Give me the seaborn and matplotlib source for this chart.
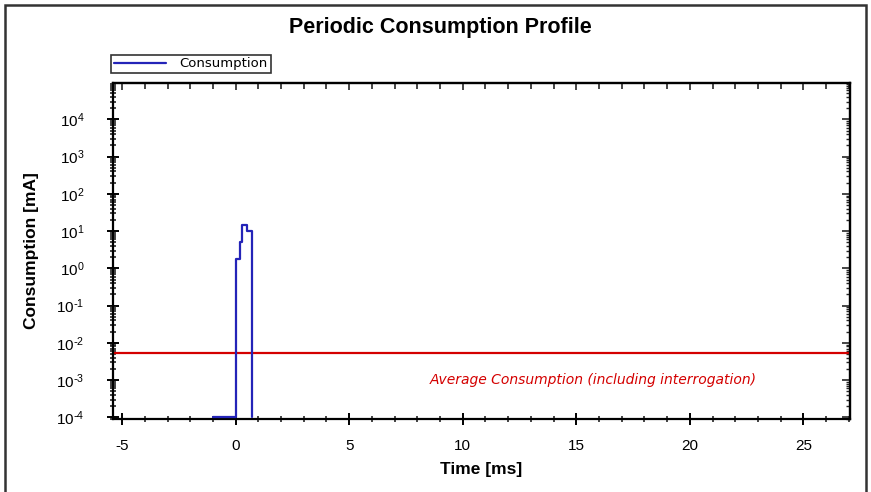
import matplotlib
matplotlib.use("Agg")
import matplotlib.pyplot as plt
import matplotlib.ticker as mticker
from matplotlib.patches import Rectangle
import seaborn as sns
import pandas as pd
import numpy as np

# ---- data ----
time_ms = [-1.0, 0.0, 0.19, 0.27, 0.5, 0.72]
consumption_mA = [1e-4, 1.8, 5.2, 14.5, 10.0, 1e-4]
average_consumption = 0.0052
title = "Periodic Consumption Profile"
xlabel = "Time [ms]"
ylabel = "Consumption [mA]"
series_name = "Consumption"
avg_label = "Average Consumption (including interrogation)"
x_ticks = [-5, 0, 5, 10, 15, 20, 25]

sns.set_style("white")
plt.rcParams["font.family"] = ["Liberation Sans", "DejaVu Sans"]
plt.rcParams["axes.unicode_minus"] = False
plt.rcParams["mathtext.default"] = "regular"
plt.rcParams["text.color"] = "black"
plt.rcParams["axes.labelcolor"] = "black"

df = pd.DataFrame({"Time": time_ms, "Consumption": consumption_mA})

W, H = 871, 492
fig = plt.figure(figsize=(W / 100, H / 100), dpi=100)
ax = fig.add_axes([113 / W, 1 - 419 / H, (850 - 113) / W, (419 - 83) / H])

sns.lineplot(data=df, x="Time", y="Consumption", ax=ax, estimator=None,
             sort=False, drawstyle="steps-post", color="#2424b8", lw=1.6,
             label=series_name, legend=False, zorder=5)
ax.axhline(average_consumption, color="#d40000", lw=1.6)
ax.text(8.55, 1.0e-3, avg_label, color="#d40000", fontsize=10, style="italic",
        va="center", ha="left", family="DejaVu Sans")

ax.set_yscale("log")
ax.set_xlim(-5.4, 27.05)
ax.set_ylim(9.0e-5, 9.5e4)
ax.set_xticks(x_ticks)
ax.xaxis.set_minor_locator(mticker.MultipleLocator(1))
ax.yaxis.set_major_locator(mticker.FixedLocator([10.0 ** e for e in range(-4, 5)]))
ax.yaxis.set_minor_locator(mticker.LogLocator(base=10, subs=range(2, 10), numticks=100))
ax.yaxis.set_minor_formatter(mticker.NullFormatter())


def log_fmt(v, pos):
    e = int(round(np.log10(v)))
    if e < 0:
        return r"$10^{\text{-}%d}$" % (-e)
    return r"$10^{%d}$" % e


ax.yaxis.set_major_formatter(mticker.FuncFormatter(log_fmt))

for s in ax.spines.values():
    s.set_color("black")
    s.set_linewidth(1.6)

ax.tick_params(which="major", direction="inout", length=9, width=1.4,
               labelsize=11, colors="black", bottom=True, left=True)
ax.tick_params(axis="y", which="major", pad=16)
ax.tick_params(axis="x", which="major", pad=10)
ax.tick_params(which="minor", direction="inout", length=5, width=1.2,
               bottom=True, left=True)

# top and right ticks pointing inward
secx = ax.secondary_xaxis("top")
secx.set_xticks(x_ticks)
secx.xaxis.set_minor_locator(mticker.MultipleLocator(1))
secx.tick_params(which="major", direction="in", length=5, width=1.2, labeltop=False)
secx.tick_params(which="minor", direction="in", length=4, width=1.2)
secx.spines["top"].set_linewidth(1.6)
secy = ax.secondary_yaxis("right")
secy.set_yscale("log")
secy.yaxis.set_major_locator(mticker.FixedLocator([10.0 ** e for e in range(-4, 5)]))
secy.yaxis.set_minor_locator(mticker.LogLocator(base=10, subs=range(2, 10), numticks=100))
secy.tick_params(which="major", direction="in", length=6, width=1.2, labelright=False)
secy.tick_params(which="minor", direction="in", length=3, width=1.0)
secy.yaxis.set_minor_formatter(mticker.NullFormatter())
secy.spines["right"].set_linewidth(1.6)

ax.set_xlabel(xlabel, fontsize=12.5, fontweight="bold", color="black")
ax.set_ylabel(ylabel, fontsize=12.5, fontweight="bold", color="black")
ax.xaxis.set_label_coords(0.5, -0.128)
ax.yaxis.set_label_coords(-0.101, 0.5)

fig.text(440 / W, 1 - 28 / H, title, ha="center", va="center",
         fontsize=15.5, fontweight="bold", color="black")

leg = fig.legend(handles=ax.get_lines()[:1], labels=[series_name],
                 loc="lower left", bbox_to_anchor=(111 / W, 1 - 73 / H),
                 bbox_transform=fig.transFigure, frameon=True,
                 prop={"family": "DejaVu Sans", "size": 9.5},
                 fancybox=False, handlelength=4.0, borderpad=0.2,
                 handletextpad=1.0, borderaxespad=0)
leg.get_frame().set_edgecolor("black")
leg.get_frame().set_linewidth(1.2)
for t in leg.get_texts():
    t.set_color("black")

fig.patches.append(Rectangle((5 / W, -0.05), (866 - 5) / W, 1.05 - 5 / H,
                             transform=fig.transFigure, fill=False,
                             edgecolor="#333333", lw=1.8, clip_on=False))

fig.savefig("out.png", dpi=100)
